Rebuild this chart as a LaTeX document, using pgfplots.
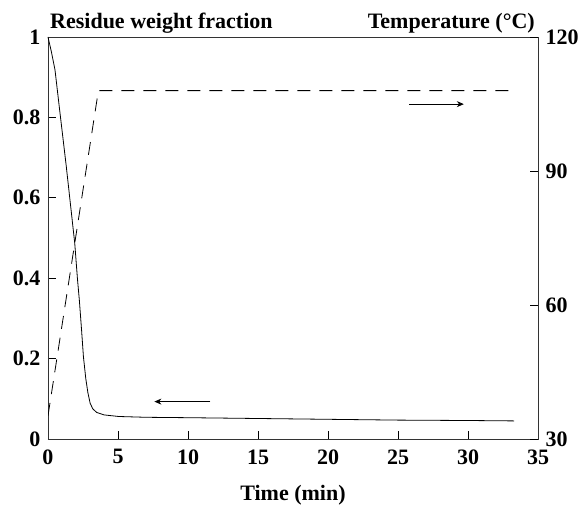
\documentclass[border=0pt]{standalone}
\usepackage{fontspec}
\setmainfont{Liberation Serif}
\usepackage{pgfplots}
\pgfplotsset{compat=1.18}
\usetikzlibrary{arrows.meta}

\newcommand{\bigbf}{\bfseries\fontsize{22}{24}\selectfont}

\pgfplotsset{
  base/.style={
    width=490pt, height=402pt, scale only axis,
    xmin=0, xmax=35,
    axis line style={black!80, line width=0.7pt},
    tick style={black, line width=0.7pt},
    tick align=inside,
    major tick length=8pt,
    /pgf/number format/assume math mode=true,
    tick label style={font=\bigbf},
  }
}

\begin{document}
\begin{tikzpicture}
  % residue weight fraction (left axis)
  \begin{axis}[base,
      ymin=0, ymax=1,
      xtick={0,5,...,35},
      ytick={0,0.2,...,1},
      yticklabels={0,0.2,0.4,0.6,0.8,1},
      xtick pos=bottom, ytick pos=left,
      xticklabel style={yshift=-7pt},
      yticklabel style={xshift=-4pt},
      clip=false,
    ]
    \addplot[black, line width=0.8pt] coordinates {
      (0,1) (0.25,0.962) (0.5,0.918) (0.86,0.81) (1.3,0.68) (1.6,0.585)
      (1.91,0.487) (2.1,0.40) (2.24,0.345) (2.4,0.27) (2.53,0.205)
      (2.7,0.15) (2.85,0.115) (3.01,0.089) (3.2,0.075) (3.48,0.066)
      (4,0.060) (5.04,0.056) (7,0.054) (10,0.053) (15,0.051) (20,0.049)
      (25,0.047) (30,0.046) (33.3,0.045)
    };
    % direction arrows
    \draw[-{Stealth[length=7pt,width=6pt]}, black, line width=0.8pt]
      (axis cs:11.6,0.093) -- (axis cs:7.6,0.093);
    \draw[-{Stealth[length=7pt,width=6pt]}, black, line width=0.8pt]
      (axis cs:25.8,0.833) -- (axis cs:29.7,0.833);
    % axis titles
    \node[anchor=base west, font=\bigbf, inner sep=0pt]
      at ([yshift=8pt,xshift=2pt]rel axis cs:0,1) {Residue weight fraction};
    \node[anchor=base east, font=\bigbf, inner sep=0pt]
      at ([yshift=8pt,xshift=-3pt]rel axis cs:1,1) {Temperature (°C)};
    \node[anchor=base, font=\bigbf, inner sep=0pt]
      at ([yshift=-61pt]rel axis cs:0.5,0) {Time (min)};
  \end{axis}
  % temperature (right axis)
  \begin{axis}[base,
      ymin=30, ymax=120,
      axis x line=none,
      axis y line*=right,
      ytick={30,60,90,120},
      yticklabel style={xshift=4pt},
    ]
    \addplot[black, line width=0.8pt, dash pattern=on 13pt off 9pt] coordinates {
      (0,35.2) (3.6,108) (33.3,108)
    };
  \end{axis}
  \pgfresetboundingbox
  \path (-48pt,-67pt) rectangle (533pt,439pt);
\end{tikzpicture}
\end{document}
